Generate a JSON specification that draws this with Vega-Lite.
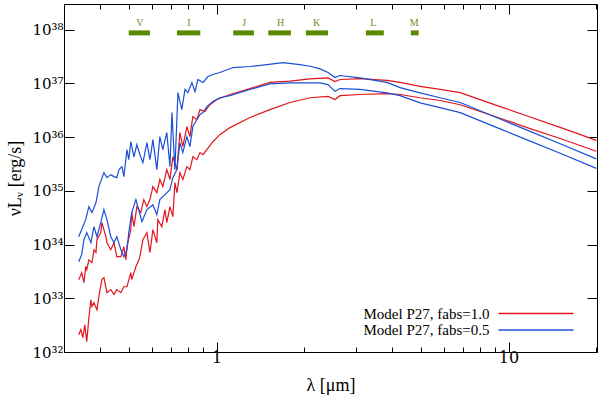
{
  "$schema": "https://vega.github.io/schema/vega-lite/v6.json",
  "width": 533,
  "height": 348,
  "autosize": {"type": "none"},
  "padding": {"left": 64, "top": 4, "right": 3, "bottom": 46},
  "config": {
    "view": {"stroke": null},
    "font": "Liberation Serif",
    "axis": {"domainColor": "#000", "tickColor": "#000", "grid": false, "domainWidth": 1, "tickWidth": 1}
  },
  "datasets": {
    "bands": [
      {"band": "V", "lo": 0.500, "hi": 0.591, "c": 0.546},
      {"band": "I", "lo": 0.731, "hi": 0.879, "c": 0.804},
      {"band": "J", "lo": 1.140, "hi": 1.342, "c": 1.243},
      {"band": "H", "lo": 1.503, "hi": 1.797, "c": 1.658},
      {"band": "K", "lo": 2.022, "hi": 2.408, "c": 2.200},
      {"band": "L", "lo": 3.247, "hi": 3.740, "c": 3.440},
      {"band": "M", "lo": 4.627, "hi": 4.924, "c": 4.750}
    ]
  },
  "resolve": {"axis": {"x": "independent", "y": "independent"}},
  "layer": [
    {
      "data": {"values": [
        {"m":"Model P27, fabs=1.0","c":"R2","w":0.337,"L":2.1e32},
        {"m":"Model P27, fabs=1.0","c":"R2","w":0.3425,"L":2.6e32},
        {"m":"Model P27, fabs=1.0","c":"R2","w":0.348,"L":1.85e32},
        {"m":"Model P27, fabs=1.0","c":"R2","w":0.3535,"L":3.2e32},
        {"m":"Model P27, fabs=1.0","c":"R2","w":0.359,"L":1.55e32},
        {"m":"Model P27, fabs=1.0","c":"R2","w":0.365,"L":4.35e32},
        {"m":"Model P27, fabs=1.0","c":"R2","w":0.371,"L":9.4e32},
        {"m":"Model P27, fabs=1.0","c":"R2","w":0.374,"L":7.0e32},
        {"m":"Model P27, fabs=1.0","c":"R2","w":0.380,"L":8.3e32},
        {"m":"Model P27, fabs=1.0","c":"R2","w":0.386,"L":6.7e32},
        {"m":"Model P27, fabs=1.0","c":"R2","w":0.389,"L":6.1e32},
        {"m":"Model P27, fabs=1.0","c":"R2","w":0.395,"L":1.07e33},
        {"m":"Model P27, fabs=1.0","c":"R2","w":0.4045,"L":2.22e33},
        {"m":"Model P27, fabs=1.0","c":"R2","w":0.411,"L":2.42e33},
        {"m":"Model P27, fabs=1.0","c":"R2","w":0.421,"L":1.27e33},
        {"m":"Model P27, fabs=1.0","c":"R2","w":0.434,"L":1.45e33},
        {"m":"Model P27, fabs=1.0","c":"R2","w":0.445,"L":1.17e33},
        {"m":"Model P27, fabs=1.0","c":"R2","w":0.455,"L":1.45e33},
        {"m":"Model P27, fabs=1.0","c":"R2","w":0.470,"L":1.27e33},
        {"m":"Model P27, fabs=1.0","c":"R2","w":0.481,"L":1.64e33},
        {"m":"Model P27, fabs=1.0","c":"R2","w":0.493,"L":1.64e33},
        {"m":"Model P27, fabs=1.0","c":"R2","w":0.508,"L":3.0e33},
        {"m":"Model P27, fabs=1.0","c":"R2","w":0.512,"L":2.22e33},
        {"m":"Model P27, fabs=1.0","c":"R2","w":0.529,"L":3.9e33},
        {"m":"Model P27, fabs=1.0","c":"R2","w":0.542,"L":5.2e33},
        {"m":"Model P27, fabs=1.0","c":"R2","w":0.546,"L":5.95e33},
        {"m":"Model P27, fabs=1.0","c":"R2","w":0.559,"L":1.23e34},
        {"m":"Model P27, fabs=1.0","c":"R2","w":0.577,"L":1.67e34},
        {"m":"Model P27, fabs=1.0","c":"R2","w":0.591,"L":7.1e33},
        {"m":"Model P27, fabs=1.0","c":"R2","w":0.605,"L":1.9e34},
        {"m":"Model P27, fabs=1.0","c":"R2","w":0.624,"L":1.08e34},
        {"m":"Model P27, fabs=1.0","c":"R2","w":0.629,"L":2.91e34},
        {"m":"Model P27, fabs=1.0","c":"R2","w":0.649,"L":2.15e34},
        {"m":"Model P27, fabs=1.0","c":"R2","w":0.665,"L":4.47e34},
        {"m":"Model P27, fabs=1.0","c":"R2","w":0.675,"L":2.56e34},
        {"m":"Model P27, fabs=1.0","c":"R2","w":0.692,"L":5.08e34},
        {"m":"Model P27, fabs=1.0","c":"R2","w":0.708,"L":3.3e34},
        {"m":"Model P27, fabs=1.0","c":"R2","w":0.7195,"L":1.42e35},
        {"m":"Model P27, fabs=1.0","c":"R2","w":0.731,"L":9.25e34},
        {"m":"Model P27, fabs=1.0","c":"R2","w":0.7485,"L":2.18e35},
        {"m":"Model P27, fabs=1.0","c":"R2","w":0.766,"L":1.62e35},
        {"m":"Model P27, fabs=1.0","c":"R2","w":0.791,"L":2.82e35},
        {"m":"Model P27, fabs=1.0","c":"R2","w":0.810,"L":2.48e35},
        {"m":"Model P27, fabs=1.0","c":"R2","w":0.829,"L":4.3e35},
        {"m":"Model P27, fabs=1.0","c":"R2","w":0.856,"L":3.8e35},
        {"m":"Model P27, fabs=1.0","c":"R2","w":0.877,"L":5.15e35},
        {"m":"Model P27, fabs=1.0","c":"R2","w":0.898,"L":4.7e35},
        {"m":"Model P27, fabs=1.0","c":"R2","w":0.926,"L":5.85e35},
        {"m":"Model P27, fabs=1.0","c":"R2","w":0.971,"L":8.2e35},
        {"m":"Model P27, fabs=1.0","c":"R2","w":1.026,"L":1.11e36},
        {"m":"Model P27, fabs=1.0","c":"R2","w":1.111,"L":1.5e36},
        {"m":"Model P27, fabs=1.0","c":"R2","w":1.301,"L":2.31e36},
        {"m":"Model P27, fabs=1.0","c":"R2","w":1.523,"L":3.25e36},
        {"m":"Model P27, fabs=1.0","c":"R2","w":1.784,"L":4.4e36},
        {"m":"Model P27, fabs=1.0","c":"R2","w":2.089,"L":5.4e36},
        {"m":"Model P27, fabs=1.0","c":"R2","w":2.408,"L":5.7e36},
        {"m":"Model P27, fabs=1.0","c":"R2","w":2.545,"L":5.0e36},
        {"m":"Model P27, fabs=1.0","c":"R2","w":2.647,"L":5.9e36},
        {"m":"Model P27, fabs=1.0","c":"R2","w":3.099,"L":6.2e36},
        {"m":"Model P27, fabs=1.0","c":"R2","w":3.836,"L":6.45e36},
        {"m":"Model P27, fabs=1.0","c":"R2","w":4.25,"L":6.2e36},
        {"m":"Model P27, fabs=1.0","c":"R2","w":4.98,"L":5.4e36},
        {"m":"Model P27, fabs=1.0","c":"R2","w":5.83,"L":4.8e36},
        {"m":"Model P27, fabs=1.0","c":"R2","w":6.83,"L":4.0e36},
        {"m":"Model P27, fabs=1.0","c":"R2","w":9.36,"L":2.24e36},
        {"m":"Model P27, fabs=1.0","c":"R2","w":11.86,"L":1.44e36},
        {"m":"Model P27, fabs=1.0","c":"R2","w":15.03,"L":9.4e35},
        {"m":"Model P27, fabs=1.0","c":"R2","w":20.0,"L":5.45e35},

        {"m":"Model P27, fabs=1.0","c":"R1","w":0.337,"L":2.22e33},
        {"m":"Model P27, fabs=1.0","c":"R1","w":0.345,"L":3.0e33},
        {"m":"Model P27, fabs=1.0","c":"R1","w":0.351,"L":1.95e33},
        {"m":"Model P27, fabs=1.0","c":"R1","w":0.356,"L":3.9e33},
        {"m":"Model P27, fabs=1.0","c":"R1","w":0.359,"L":3.4e33},
        {"m":"Model P27, fabs=1.0","c":"R1","w":0.365,"L":5.2e33},
        {"m":"Model P27, fabs=1.0","c":"R1","w":0.374,"L":4.6e33},
        {"m":"Model P27, fabs=1.0","c":"R1","w":0.380,"L":8.0e33},
        {"m":"Model P27, fabs=1.0","c":"R1","w":0.386,"L":7.1e33},
        {"m":"Model P27, fabs=1.0","c":"R1","w":0.389,"L":1.23e34},
        {"m":"Model P27, fabs=1.0","c":"R1","w":0.401,"L":1.67e34},
        {"m":"Model P27, fabs=1.0","c":"R1","w":0.4045,"L":2.56e34},
        {"m":"Model P27, fabs=1.0","c":"R1","w":0.4175,"L":1.4e34},
        {"m":"Model P27, fabs=1.0","c":"R1","w":0.421,"L":1.08e34},
        {"m":"Model P27, fabs=1.0","c":"R1","w":0.434,"L":8.0e33},
        {"m":"Model P27, fabs=1.0","c":"R1","w":0.445,"L":1.08e34},
        {"m":"Model P27, fabs=1.0","c":"R1","w":0.455,"L":5.95e33},
        {"m":"Model P27, fabs=1.0","c":"R1","w":0.470,"L":5.95e33},
        {"m":"Model P27, fabs=1.0","c":"R1","w":0.481,"L":9.1e33},
        {"m":"Model P27, fabs=1.0","c":"R1","w":0.489,"L":5.2e33},
        {"m":"Model P27, fabs=1.0","c":"R1","w":0.493,"L":9.1e33},
        {"m":"Model P27, fabs=1.0","c":"R1","w":0.508,"L":1.9e34},
        {"m":"Model P27, fabs=1.0","c":"R1","w":0.512,"L":3.93e34},
        {"m":"Model P27, fabs=1.0","c":"R1","w":0.521,"L":2.15e34},
        {"m":"Model P27, fabs=1.0","c":"R1","w":0.533,"L":5.08e34},
        {"m":"Model P27, fabs=1.0","c":"R1","w":0.550,"L":3.93e34},
        {"m":"Model P27, fabs=1.0","c":"R1","w":0.563,"L":6.86e34},
        {"m":"Model P27, fabs=1.0","c":"R1","w":0.577,"L":5.08e34},
        {"m":"Model P27, fabs=1.0","c":"R1","w":0.591,"L":6.86e34},
        {"m":"Model P27, fabs=1.0","c":"R1","w":0.605,"L":1.2e35},
        {"m":"Model P27, fabs=1.0","c":"R1","w":0.624,"L":9.25e34},
        {"m":"Model P27, fabs=1.0","c":"R1","w":0.639,"L":1.62e35},
        {"m":"Model P27, fabs=1.0","c":"R1","w":0.654,"L":1.2e35},
        {"m":"Model P27, fabs=1.0","c":"R1","w":0.675,"L":2.48e35},
        {"m":"Model P27, fabs=1.0","c":"R1","w":0.692,"L":1.62e35},
        {"m":"Model P27, fabs=1.0","c":"R1","w":0.708,"L":4.3e35},
        {"m":"Model P27, fabs=1.0","c":"R1","w":0.731,"L":2.48e35},
        {"m":"Model P27, fabs=1.0","c":"R1","w":0.7485,"L":1.21e36},
        {"m":"Model P27, fabs=1.0","c":"R1","w":0.766,"L":6.65e35},
        {"m":"Model P27, fabs=1.0","c":"R1","w":0.791,"L":1.57e36},
        {"m":"Model P27, fabs=1.0","c":"R1","w":0.810,"L":1.02e36},
        {"m":"Model P27, fabs=1.0","c":"R1","w":0.829,"L":2.41e36},
        {"m":"Model P27, fabs=1.0","c":"R1","w":0.856,"L":2.12e36},
        {"m":"Model P27, fabs=1.0","c":"R1","w":0.877,"L":3.25e36},
        {"m":"Model P27, fabs=1.0","c":"R1","w":0.912,"L":3.0e36},
        {"m":"Model P27, fabs=1.0","c":"R1","w":0.948,"L":4.0e36},
        {"m":"Model P27, fabs=1.0","c":"R1","w":1.002,"L":5.0e36},
        {"m":"Model P27, fabs=1.0","c":"R1","w":1.111,"L":6.2e36},
        {"m":"Model P27, fabs=1.0","c":"R1","w":1.301,"L":8.0e36},
        {"m":"Model P27, fabs=1.0","c":"R1","w":1.523,"L":1.04e37},
        {"m":"Model P27, fabs=1.0","c":"R1","w":1.784,"L":1.1e37},
        {"m":"Model P27, fabs=1.0","c":"R1","w":2.089,"L":1.21e37},
        {"m":"Model P27, fabs=1.0","c":"R1","w":2.408,"L":1.26e37},
        {"m":"Model P27, fabs=1.0","c":"R1","w":2.545,"L":1.08e37},
        {"m":"Model P27, fabs=1.0","c":"R1","w":2.647,"L":1.18e37},
        {"m":"Model P27, fabs=1.0","c":"R1","w":3.099,"L":1.23e37},
        {"m":"Model P27, fabs=1.0","c":"R1","w":3.836,"L":1.14e37},
        {"m":"Model P27, fabs=1.0","c":"R1","w":4.25,"L":1.04e37},
        {"m":"Model P27, fabs=1.0","c":"R1","w":4.98,"L":8.8e36},
        {"m":"Model P27, fabs=1.0","c":"R1","w":5.83,"L":7.7e36},
        {"m":"Model P27, fabs=1.0","c":"R1","w":6.83,"L":6.7e36},
        {"m":"Model P27, fabs=1.0","c":"R1","w":9.36,"L":3.7e36},
        {"m":"Model P27, fabs=1.0","c":"R1","w":11.86,"L":2.37e36},
        {"m":"Model P27, fabs=1.0","c":"R1","w":15.03,"L":1.52e36},
        {"m":"Model P27, fabs=1.0","c":"R1","w":20.0,"L":8.7e35},

        {"m":"Model P27, fabs=0.5","c":"B1","w":0.337,"L":1.4e34},
        {"m":"Model P27, fabs=0.5","c":"B1","w":0.345,"L":1.9e34},
        {"m":"Model P27, fabs=0.5","c":"B1","w":0.356,"L":2.91e34},
        {"m":"Model P27, fabs=0.5","c":"B1","w":0.365,"L":5.08e34},
        {"m":"Model P27, fabs=0.5","c":"B1","w":0.374,"L":3.93e34},
        {"m":"Model P27, fabs=0.5","c":"B1","w":0.386,"L":6.0e34},
        {"m":"Model P27, fabs=0.5","c":"B1","w":0.395,"L":1.2e35},
        {"m":"Model P27, fabs=0.5","c":"B1","w":0.411,"L":2.18e35},
        {"m":"Model P27, fabs=0.5","c":"B1","w":0.421,"L":1.76e35},
        {"m":"Model P27, fabs=0.5","c":"B1","w":0.434,"L":2.0e35},
        {"m":"Model P27, fabs=0.5","c":"B1","w":0.445,"L":1.84e35},
        {"m":"Model P27, fabs=0.5","c":"B1","w":0.455,"L":1.76e35},
        {"m":"Model P27, fabs=0.5","c":"B1","w":0.463,"L":2.48e35},
        {"m":"Model P27, fabs=0.5","c":"B1","w":0.474,"L":2.82e35},
        {"m":"Model P27, fabs=0.5","c":"B1","w":0.481,"L":1.84e35},
        {"m":"Model P27, fabs=0.5","c":"B1","w":0.493,"L":5.85e35},
        {"m":"Model P27, fabs=0.5","c":"B1","w":0.500,"L":3.8e35},
        {"m":"Model P27, fabs=0.5","c":"B1","w":0.508,"L":8.2e35},
        {"m":"Model P27, fabs=0.5","c":"B1","w":0.521,"L":4.3e35},
        {"m":"Model P27, fabs=0.5","c":"B1","w":0.533,"L":7.25e35},
        {"m":"Model P27, fabs=0.5","c":"B1","w":0.546,"L":4.7e35},
        {"m":"Model P27, fabs=0.5","c":"B1","w":0.559,"L":3.35e35},
        {"m":"Model P27, fabs=0.5","c":"B1","w":0.577,"L":7.9e35},
        {"m":"Model P27, fabs=0.5","c":"B1","w":0.591,"L":3.8e35},
        {"m":"Model P27, fabs=0.5","c":"B1","w":0.605,"L":8.98e35},
        {"m":"Model P27, fabs=0.5","c":"B1","w":0.624,"L":2.48e35},
        {"m":"Model P27, fabs=0.5","c":"B1","w":0.639,"L":1.02e36},
        {"m":"Model P27, fabs=0.5","c":"B1","w":0.654,"L":5.85e35},
        {"m":"Model P27, fabs=0.5","c":"B1","w":0.675,"L":1.21e36},
        {"m":"Model P27, fabs=0.5","c":"B1","w":0.692,"L":2.82e35},
        {"m":"Model P27, fabs=0.5","c":"B1","w":0.703,"L":2.86e36},
        {"m":"Model P27, fabs=0.5","c":"B1","w":0.7195,"L":2.48e35},
        {"m":"Model P27, fabs=0.5","c":"B1","w":0.737,"L":6.7e36},
        {"m":"Model P27, fabs=0.5","c":"B1","w":0.760,"L":3.25e36},
        {"m":"Model P27, fabs=0.5","c":"B1","w":0.779,"L":7.7e36},
        {"m":"Model P27, fabs=0.5","c":"B1","w":0.797,"L":6.7e36},
        {"m":"Model P27, fabs=0.5","c":"B1","w":0.823,"L":1.04e37},
        {"m":"Model P27, fabs=0.5","c":"B1","w":0.843,"L":7.0e36},
        {"m":"Model P27, fabs=0.5","c":"B1","w":0.863,"L":1.18e37},
        {"m":"Model P27, fabs=0.5","c":"B1","w":0.898,"L":1.04e37},
        {"m":"Model P27, fabs=0.5","c":"B1","w":0.934,"L":1.34e37},
        {"m":"Model P27, fabs=0.5","c":"B1","w":0.971,"L":1.46e37},
        {"m":"Model P27, fabs=0.5","c":"B1","w":1.026,"L":1.59e37},
        {"m":"Model P27, fabs=0.5","c":"B1","w":1.137,"L":1.97e37},
        {"m":"Model P27, fabs=0.5","c":"B1","w":1.301,"L":2.06e37},
        {"m":"Model P27, fabs=0.5","c":"B1","w":1.487,"L":2.24e37},
        {"m":"Model P27, fabs=0.5","c":"B1","w":1.688,"L":2.44e37},
        {"m":"Model P27, fabs=0.5","c":"B1","w":1.930,"L":2.24e37},
        {"m":"Model P27, fabs=0.5","c":"B1","w":2.089,"L":2.08e37},
        {"m":"Model P27, fabs=0.5","c":"B1","w":2.261,"L":1.86e37},
        {"m":"Model P27, fabs=0.5","c":"B1","w":2.408,"L":1.59e37},
        {"m":"Model P27, fabs=0.5","c":"B1","w":2.545,"L":1.28e37},
        {"m":"Model P27, fabs=0.5","c":"B1","w":2.647,"L":1.4e37},
        {"m":"Model P27, fabs=0.5","c":"B1","w":3.099,"L":1.27e37},
        {"m":"Model P27, fabs=0.5","c":"B1","w":3.836,"L":1.04e37},
        {"m":"Model P27, fabs=0.5","c":"B1","w":4.25,"L":8.35e36},
        {"m":"Model P27, fabs=0.5","c":"B1","w":4.98,"L":6.65e36},
        {"m":"Model P27, fabs=0.5","c":"B1","w":5.83,"L":5.4e36},
        {"m":"Model P27, fabs=0.5","c":"B1","w":6.83,"L":4.4e36},
        {"m":"Model P27, fabs=0.5","c":"B1","w":9.36,"L":2.17e36},
        {"m":"Model P27, fabs=0.5","c":"B1","w":11.86,"L":1.28e36},
        {"m":"Model P27, fabs=0.5","c":"B1","w":15.03,"L":7.5e35},
        {"m":"Model P27, fabs=0.5","c":"B1","w":20.0,"L":3.93e35},

        {"m":"Model P27, fabs=0.5","c":"B2","w":0.337,"L":4.8e33},
        {"m":"Model P27, fabs=0.5","c":"B2","w":0.345,"L":6.5e33},
        {"m":"Model P27, fabs=0.5","c":"B2","w":0.351,"L":1.23e34},
        {"m":"Model P27, fabs=0.5","c":"B2","w":0.359,"L":1.67e34},
        {"m":"Model P27, fabs=0.5","c":"B2","w":0.371,"L":1.08e34},
        {"m":"Model P27, fabs=0.5","c":"B2","w":0.380,"L":2.15e34},
        {"m":"Model P27, fabs=0.5","c":"B2","w":0.389,"L":1.4e34},
        {"m":"Model P27, fabs=0.5","c":"B2","w":0.401,"L":2.56e34},
        {"m":"Model P27, fabs=0.5","c":"B2","w":0.411,"L":4.47e34},
        {"m":"Model P27, fabs=0.5","c":"B2","w":0.421,"L":2.91e34},
        {"m":"Model P27, fabs=0.5","c":"B2","w":0.434,"L":1.4e34},
        {"m":"Model P27, fabs=0.5","c":"B2","w":0.445,"L":1.08e34},
        {"m":"Model P27, fabs=0.5","c":"B2","w":0.455,"L":1.4e34},
        {"m":"Model P27, fabs=0.5","c":"B2","w":0.470,"L":8.0e33},
        {"m":"Model P27, fabs=0.5","c":"B2","w":0.481,"L":5.95e33},
        {"m":"Model P27, fabs=0.5","c":"B2","w":0.493,"L":8.0e33},
        {"m":"Model P27, fabs=0.5","c":"B2","w":0.500,"L":1.67e34},
        {"m":"Model P27, fabs=0.5","c":"B2","w":0.512,"L":3.93e34},
        {"m":"Model P27, fabs=0.5","c":"B2","w":0.529,"L":6.86e34},
        {"m":"Model P27, fabs=0.5","c":"B2","w":0.555,"L":2.67e34},
        {"m":"Model P27, fabs=0.5","c":"B2","w":0.577,"L":4.47e34},
        {"m":"Model P27, fabs=0.5","c":"B2","w":0.605,"L":5.5e34},
        {"m":"Model P27, fabs=0.5","c":"B2","w":0.624,"L":3.6e34},
        {"m":"Model P27, fabs=0.5","c":"B2","w":0.639,"L":6.86e34},
        {"m":"Model P27, fabs=0.5","c":"B2","w":0.665,"L":8.5e34},
        {"m":"Model P27, fabs=0.5","c":"B2","w":0.692,"L":1.05e35},
        {"m":"Model P27, fabs=0.5","c":"B2","w":0.708,"L":1.76e35},
        {"m":"Model P27, fabs=0.5","c":"B2","w":0.731,"L":2.48e35},
        {"m":"Model P27, fabs=0.5","c":"B2","w":0.7485,"L":7.9e35},
        {"m":"Model P27, fabs=0.5","c":"B2","w":0.766,"L":5.15e35},
        {"m":"Model P27, fabs=0.5","c":"B2","w":0.791,"L":1.02e36},
        {"m":"Model P27, fabs=0.5","c":"B2","w":0.810,"L":6.65e35},
        {"m":"Model P27, fabs=0.5","c":"B2","w":0.829,"L":1.57e36},
        {"m":"Model P27, fabs=0.5","c":"B2","w":0.856,"L":2.12e36},
        {"m":"Model P27, fabs=0.5","c":"B2","w":0.877,"L":2.62e36},
        {"m":"Model P27, fabs=0.5","c":"B2","w":0.898,"L":2.86e36},
        {"m":"Model P27, fabs=0.5","c":"B2","w":0.926,"L":3.7e36},
        {"m":"Model P27, fabs=0.5","c":"B2","w":0.971,"L":4.6e36},
        {"m":"Model P27, fabs=0.5","c":"B2","w":1.026,"L":5.4e36},
        {"m":"Model P27, fabs=0.5","c":"B2","w":1.111,"L":5.9e36},
        {"m":"Model P27, fabs=0.5","c":"B2","w":1.301,"L":7.7e36},
        {"m":"Model P27, fabs=0.5","c":"B2","w":1.523,"L":9.8e36},
        {"m":"Model P27, fabs=0.5","c":"B2","w":1.784,"L":1.02e37},
        {"m":"Model P27, fabs=0.5","c":"B2","w":2.089,"L":1.02e37},
        {"m":"Model P27, fabs=0.5","c":"B2","w":2.261,"L":1.02e37},
        {"m":"Model P27, fabs=0.5","c":"B2","w":2.408,"L":9.5e36},
        {"m":"Model P27, fabs=0.5","c":"B2","w":2.545,"L":7.1e36},
        {"m":"Model P27, fabs=0.5","c":"B2","w":2.647,"L":8.0e36},
        {"m":"Model P27, fabs=0.5","c":"B2","w":3.099,"L":7.7e36},
        {"m":"Model P27, fabs=0.5","c":"B2","w":3.836,"L":6.65e36},
        {"m":"Model P27, fabs=0.5","c":"B2","w":4.25,"L":5.9e36},
        {"m":"Model P27, fabs=0.5","c":"B2","w":4.98,"L":4.33e36},
        {"m":"Model P27, fabs=0.5","c":"B2","w":5.83,"L":3.54e36},
        {"m":"Model P27, fabs=0.5","c":"B2","w":6.83,"L":2.86e36},
        {"m":"Model P27, fabs=0.5","c":"B2","w":9.36,"L":1.42e36},
        {"m":"Model P27, fabs=0.5","c":"B2","w":11.86,"L":8.4e35},
        {"m":"Model P27, fabs=0.5","c":"B2","w":15.03,"L":4.99e35},
        {"m":"Model P27, fabs=0.5","c":"B2","w":20.0,"L":2.62e35}
      ]},
      "mark": {"type": "line", "strokeWidth": 1.2, "clip": true},
      "encoding": {
        "x": {"field": "w", "type": "quantitative",
          "scale": {"type": "log", "domain": [0.3, 20.1], "nice": false},
          "axis": {"orient": "bottom", "values": [0.4,0.5,0.6,0.7,0.8,0.9,1,2,3,4,5,6,7,8,9,10,20],
            "labelExpr": "datum.value == 1 ? '1' : (datum.value == 10 ? '10' : '')",
            "tickSize": {"condition": {"test": "datum.value == 1 || datum.value == 10", "value": -10}, "value": -5},
            "labelPadding": 7, "labelFontSize": 16, "labelColor": "#000", "labelFont": "DejaVu Serif",
            "title": "λ [μm]", "titleFontSize": 18, "titleFontWeight": "normal", "titleFont": "Liberation Serif", "titlePadding": 11, "titleColor": "#000"}},
        "y": {"field": "L", "type": "quantitative",
          "scale": {"type": "log", "domain": [1e32, 3e38], "nice": false},
          "axis": {"orient": "left", "values": [1e32,1e33,1e34,1e35,1e36,1e37,1e38],
            "labelExpr": "'10' + ['³²','³³','³⁴','³⁵','³⁶','³⁷','³⁸'][round(log(datum.value)/LN10) - 32]",
            "tickSize": -10, "labelPadding": 11, "labelFontSize": 15, "labelColor": "#000", "labelFont": "DejaVu Serif",
            "title": "νLᵥ [erg/s]", "titleFontSize": 18, "titleFontWeight": "normal", "titleFont": "Liberation Serif", "titlePadding": 7, "titleColor": "#000"}},
        "color": {"field": "m", "type": "nominal",
          "scale": {"domain": ["Model P27, fabs=1.0", "Model P27, fabs=0.5"], "range": ["#e3141c", "#1a4fd6"]},
          "legend": {"orient": "none", "legendX": 464.5, "legendY": 302, "title": null, "symbolType": "M -7.5 0 H 7.5", "symbolSize": 100,
            "symbolStrokeWidth": 1.5, "labelAlign": "right", "labelOffset": -54, "labelFont": "Liberation Serif",
            "labelFontSize": 15, "labelColor": "#000", "rowPadding": 0.5, "padding": 0}},
        "detail": {"field": "c", "type": "nominal"}
      }
    },
    {
      "data": {"name": "bands"},
      "mark": {"type": "rule", "strokeWidth": 5, "color": "#5a8a00", "strokeCap": "butt"},
      "encoding": {
        "x": {"field": "lo", "type": "quantitative",
          "axis": {"orient": "top", "values": [0.4,0.5,0.6,0.7,0.8,0.9,1,2,3,4,5,6,7,8,9,10,20], "labels": false, "title": null,
            "tickSize": {"condition": {"test": "datum.value == 1 || datum.value == 10", "value": -10}, "value": -5}}},
        "x2": {"field": "hi"},
        "y": {"datum": 8.7e37, "type": "quantitative",
          "axis": {"orient": "right", "values": [1e32,1e33,1e34,1e35,1e36,1e37,1e38], "labels": false, "title": null, "tickSize": -10}}
      }
    },
    {
      "data": {"name": "bands"},
      "mark": {"type": "text", "color": "#6b8e23", "fontSize": 10, "font": "Liberation Serif", "dy": -10},
      "encoding": {
        "x": {"field": "c", "type": "quantitative", "axis": null},
        "y": {"datum": 8.7e37, "type": "quantitative", "axis": null},
        "text": {"field": "band"}
      }
    }
  ]
}
